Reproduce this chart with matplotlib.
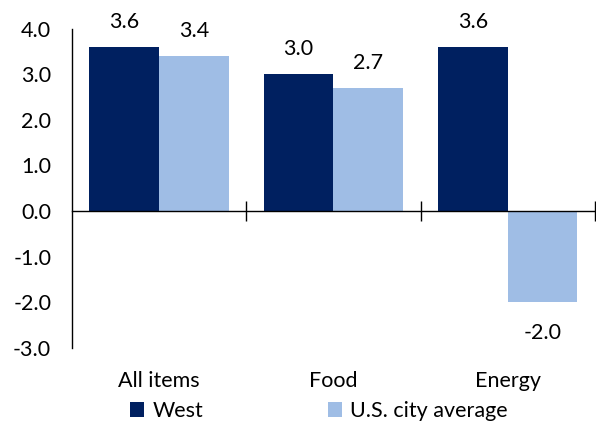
import matplotlib.pyplot as plt
import numpy as np

plt.rcParams['font.family'] = ['Lato', 'DejaVu Sans']

categories = ['All items', 'Food', 'Energy']
west = [3.6, 3.0, 3.6]
us_avg = [3.4, 2.7, -2.0]
yticks = [-3.0, -2.0, -1.0, 0.0, 1.0, 2.0, 3.0, 4.0]

dark = '#002060'
light = '#9FBDE5'
fs = 15.5

fig = plt.figure(figsize=(5.96, 4.23), dpi=100)
ax = fig.add_axes([72/596, 1 - 348/423, 1 - 72/596 - 0.002, (348 - 28.6)/423])

x = np.arange(len(categories))
w = 0.4
b1 = ax.bar(x - w/2, west, w, color=dark, label='West')
b2 = ax.bar(x + w/2, us_avg, w, color=light, label='U.S. city average')

# value labels
for bars, vals in ((b1, west), (b2, us_avg)):
    for r, v in zip(bars, vals):
        off = 11 if v >= 0 else -15
        va = 'bottom' if v >= 0 else 'top'
        ax.annotate(f'{v:.1f}', (r.get_x() + r.get_width()/2, v),
                    xytext=(0, off), textcoords='offset points',
                    ha='center', va=va, fontsize=fs, color='black')

ax.set_xlim(-0.5, 2.5)
ax.set_ylim(-3, 4)
ax.set_yticks(yticks)
ax.set_yticklabels([f'{t:.1f}' for t in yticks], fontsize=fs)
ax.tick_params(axis='y', length=0, pad=15)

ax.spines['top'].set_visible(False)
ax.spines['right'].set_visible(False)
ax.spines['bottom'].set_position(('data', 0))
ax.spines['left'].set_linewidth(1.0)
ax.spines['bottom'].set_linewidth(1.0)
ax.set_xticks([0.5, 1.5, 2.5])
ax.set_xticklabels([])
ax.tick_params(axis='x', direction='inout', length=14, width=1.0)

# category labels along the bottom
for i, c in enumerate(categories):
    ax.annotate(c, xy=(i, 0), xycoords=('data', 'axes fraction'),
                xytext=(0, -24), textcoords='offset points',
                ha='center', va='center', fontsize=fs)

fig.legend(handles=[b1, b2], loc='center', bbox_to_anchor=(0.535, 0.028),
           ncol=2, frameon=False, fontsize=fs, handlelength=0.65,
           handleheight=0.65, handletextpad=0.4, columnspacing=5.8)

fig.savefig('out.png', dpi=100)
